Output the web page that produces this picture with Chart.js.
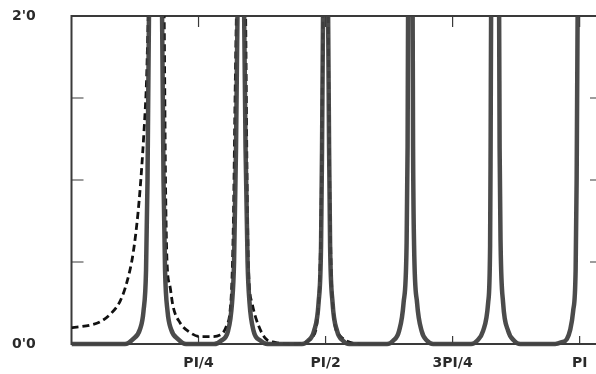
<!DOCTYPE html>
<html>
<head>
<meta charset="utf-8">
<script src="https://cdn.jsdelivr.net/npm/chart.js@4"></script>
<style>
  html, body { margin: 0; padding: 0; background: #fff; overflow: hidden; width: 596px; height: 374px; }
  #wrap { width: 606px; height: 374px; }
</style>
</head>
<body>
<div id="wrap"><canvas id="chart" width="606" height="374"></canvas></div>
<script>
// x is given in units of PI, y is the plotted value (clipped at 2.0)
const solidX = [
  0, 0.1053, 0.1211, 0.1348, 0.1417, 0.1467, 0.1496, 0.1526, 0.1663, 0.1781, 0.1811, 0.1841, 0.1890, 0.1959, 0.2096, 0.2254,
  0.2805, 0.2943, 0.3081, 0.3159, 0.3199, 0.3238, 0.3268, 0.3333, 0.3396, 0.3425, 0.3465, 0.3504, 0.3583, 0.3720, 0.3858,
  0.4537, 0.4656, 0.4774, 0.4862, 0.4911, 0.4931, 0.4951, 0.5000, 0.5049, 0.5069, 0.5089, 0.5138, 0.5226, 0.5344, 0.5463,
  0.6211, 0.6329, 0.6447, 0.6535, 0.6594, 0.6614, 0.6624, 0.6667, 0.6713, 0.6722, 0.6742, 0.6801, 0.6890, 0.6998, 0.7116,
  0.7864, 0.7982, 0.8100, 0.8199, 0.8238, 0.8248, 0.8258, 0.8337, 0.8415, 0.8425, 0.8445, 0.8494, 0.8593, 0.8711, 0.8829,
  0.9518, 0.9636, 0.9748, 0.9813, 0.9872, 0.9921, 0.9941, 0.9961, 1.0
]
const solidY = [
  0, 0, 0.03, 0.09, 0.2, 0.45, 1.0, 2.05, 3, 2.05, 1.0, 0.45, 0.2, 0.09, 0.03, 0,
  0, 0.02, 0.08, 0.25, 0.5, 1.2, 2.05, 3, 2.05, 1.2, 0.5, 0.25, 0.08, 0.02, 0,
  0, 0.02, 0.08, 0.25, 0.6, 1.2, 2.05, 3, 2.05, 1.2, 0.6, 0.25, 0.08, 0.02, 0,
  0, 0.02, 0.08, 0.25, 0.6, 1.2, 2.05, 3, 2.05, 1.2, 0.6, 0.25, 0.08, 0.02, 0,
  0, 0.02, 0.08, 0.25, 0.6, 1.2, 2.05, 3, 2.05, 1.2, 0.6, 0.25, 0.08, 0.02, 0,
  0, 0.01, 0.03, 0.085, 0.2, 0.45, 1.0, 2.05, 3
]

const dashedX = [
  0, 0.0167, 0.0364, 0.0561, 0.0758, 0.0955, 0.1093, 0.1211, 0.1309, 0.1378, 0.1427, 0.1476, 0.1516, 0.1667,
  0.1821, 0.1850, 0.1880, 0.1939, 0.1998, 0.2136, 0.2333, 0.2530, 0.2726, 0.2923, 0.3051, 0.3120, 0.3159, 0.3189, 0.3219, 0.3248, 0.3333,
  0.3425, 0.3455, 0.3484, 0.3553, 0.3671, 0.3829, 0.4006, 0.4301, 0.4596, 0.4734, 0.4852, 0.4911, 0.4951, 0.5000,
  0.5049, 0.5089, 0.5148, 0.5285, 0.5482, 0.5679
]
const dashedY = [
  0.10, 0.105, 0.115, 0.135, 0.18, 0.26, 0.38, 0.55, 0.80, 1.06, 1.3, 1.6, 2.05, 3,
  2.05, 1.0, 0.5, 0.35, 0.23, 0.13, 0.07, 0.045, 0.045, 0.055, 0.11, 0.2, 0.4, 0.8, 1.5, 2.05, 3,
  2.05, 1.0, 0.45, 0.25, 0.12, 0.03, 0.01, 0, 0.01, 0.04, 0.2, 0.8, 2.05, 3,
  2.05, 0.8, 0.2, 0.05, 0.01, 0
]

const xTickValues = [0.25, 0.5, 0.75, 1]
const xTickLabels = ["PI/4", "PI/2", "3PI/4", "PI"]
const yTickValues = [0, 0.5, 1, 1.5, 2]
const yTickLabels = ["0'0", "", "", "", "2'0"]

const toPoints = (xs, ys) => xs.map((x, i) => ({ x: x, y: ys[i] }))

// frame and inward tick marks
const framePlugin = {
  id: "frame",
  beforeDatasetsDraw(chart) {
    const { ctx, chartArea: a, scales } = chart
    ctx.save()
    ctx.strokeStyle = "#3a3a3a"
    ctx.lineWidth = 2
    ctx.strokeRect(a.left, a.top, a.right - a.left, a.bottom - a.top)
    ctx.lineWidth = 1.2
    ctx.beginPath()
    xTickValues.forEach((v) => {
      const px = scales.x.getPixelForValue(v)
      ctx.moveTo(px, a.bottom)
      ctx.lineTo(px, a.bottom - 8)
      ctx.moveTo(px, a.top)
      ctx.lineTo(px, a.top + 11)
    })
    yTickValues.slice(1, -1).forEach((v) => {
      const py = scales.y.getPixelForValue(v)
      ctx.moveTo(a.left, py)
      ctx.lineTo(a.left + 12, py)
      ctx.moveTo(a.right, py)
      ctx.lineTo(a.right - 12, py)
    })
    ctx.stroke()
    ctx.restore()
  },
}

new Chart(document.getElementById("chart"), {
  type: "line",
  data: {
    datasets: [
      {
        data: toPoints(solidX, solidY),
        borderColor: "rgba(65, 65, 65, 0.95)",
        borderWidth: 4.5,
        pointRadius: 0,
        cubicInterpolationMode: "monotone",
        clip: { left: 0, top: 0, right: 0, bottom: 4 },
        order: 1,
      },
      {
        data: toPoints(dashedX, dashedY),
        borderColor: "#111",
        borderWidth: 2.8,
        borderDash: [7, 4],
        pointRadius: 0,
        cubicInterpolationMode: "monotone",
        clip: { left: 0, top: 0, right: 0, bottom: 4 },
        order: 2,
      },
    ],
  },
  options: {
    responsive: false,
    animation: false,
    layout: { padding: { top: 16, right: 4, left: 12, bottom: 0 } },
    plugins: { legend: { display: false }, tooltip: { enabled: false } },
    scales: {
      x: {
        type: "linear",
        min: 0,
        max: 1.044,
        grid: { display: false, drawTicks: false },
        border: { display: false },
        afterBuildTicks: (s) => { s.ticks = xTickValues.map((v) => ({ value: v })) },
        afterFit: (s) => { s.height = 30 },
        ticks: {
          padding: 11,
          maxRotation: 0,
          autoSkip: false,
          color: "#2a2a2a",
          font: { family: "DejaVu Sans", size: 14, weight: "bold" },
          callback: (v, i) => xTickLabels[i],
        },
      },
      y: {
        min: 0,
        max: 2,
        grid: { display: false, drawTicks: false },
        border: { display: false },
        afterBuildTicks: (s) => { s.ticks = yTickValues.map((v) => ({ value: v })) },
        afterFit: (s) => { s.width = 59.5 },
        ticks: {
          padding: 0,
          crossAlign: "far",
          autoSkip: false,
          color: "#2a2a2a",
          font: { family: "DejaVu Sans", size: 14, weight: "bold" },
          callback: (v, i) => yTickLabels[i],
        },
      },
    },
  },
  plugins: [framePlugin],
})
</script>
</body>
</html>
